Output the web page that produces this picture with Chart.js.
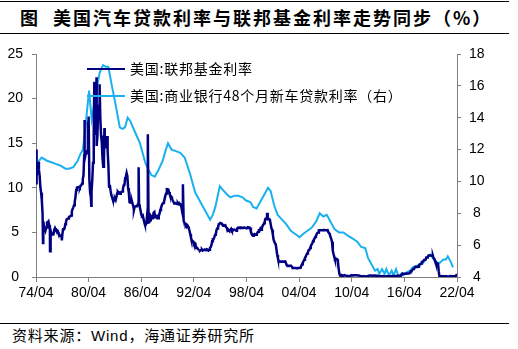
<!DOCTYPE html>
<html>
<head>
<meta charset="utf-8">
<script src="https://cdn.jsdelivr.net/npm/chart.js@4.4.1/dist/chart.umd.min.js"></script>
<style>
  body { margin: 0; width: 518px; height: 349px; background: #fff; position: relative; overflow: hidden; font-family: "Noto Sans CJK SC", sans-serif; }
  .rule { position: absolute; left: 0; width: 509px; height: 1px; background: #000; }
  #title { position: absolute; left: 20px; top: 4px; font-size: 18px; font-weight: bold; letter-spacing: 2px; line-height: 26px; white-space: nowrap; }
  #title .lead { margin-right: 13px; }
  #wrap { position: absolute; left: 0; top: 34px; width: 518px; height: 288px; }
  #source { position: absolute; left: 12px; top: 325px; font-size: 15px; letter-spacing: 0.8px; line-height: 20px; white-space: nowrap; }
  #source .latin { font-family: Arial, "Liberation Sans", sans-serif; }
</style>
</head>
<body>
<div class="rule" style="top:1px"></div>
<div id="title"><span class="lead">图</span>美国汽车贷款利率与联邦基金利率走势同步（%）</div>
<div class="rule" style="top:33px"></div>
<div id="wrap"><canvas id="chart" width="518" height="288"></canvas></div>
<div class="rule" style="top:323px"></div>
<div id="source">资料来源：<span class="latin">Wind</span>，海通证券研究所</div>

<script>
// x 轴刻度（年份，小数）
const tickYears = [1974.25, 1980.25, 1986.25, 1992.25, 1998.25, 2004.25, 2010.25, 2016.25, 2022.25];
const tickLabels = ['74/04', '80/04', '86/04', '92/04', '98/04', '04/04', '10/04', '16/04', '22/04'];

// 联邦基金利率，月度，从 1974 年 4 月开始
const fedStart = 1974.25;
const fedRate = [
  10.51, 11.31, 11.93, 12.92, 12.01, 11.34, 10.06, 9.45, 8.53,
  7.13, 6.24, 5.54, 5.49, 5.22, 5.55, 6.10, 6.14, 6.24, 5.82, 5.22, 5.20,
  4.87, 4.77, 4.84, 4.82, 5.29, 5.48, 5.31, 5.29, 5.25, 5.02, 4.95, 4.65,
  4.61, 4.68, 4.69, 4.73, 5.35, 5.39, 5.42, 5.90, 6.14, 6.47, 6.51, 6.56,
  6.70, 6.78, 6.79, 6.89, 7.36, 7.60, 7.81, 8.04, 8.45, 8.96, 9.76, 10.03,
  10.07, 10.06, 10.09, 10.01, 10.24, 10.29, 10.47, 10.94, 11.43, 13.77, 13.18, 13.78,
  13.82, 14.13, 17.19, 17.61, 10.98, 9.47, 9.03, 9.61, 10.87, 12.81, 15.85, 18.90,
  19.08, 15.93, 14.70, 15.72, 18.52, 19.10, 19.04, 17.82, 15.87, 15.08, 13.31, 12.37,
  13.22, 14.78, 14.68, 14.94, 14.45, 14.15, 12.59, 10.12, 10.31, 9.71, 9.20, 8.95,
  8.68, 8.51, 8.77, 8.80, 8.63, 8.98, 9.37, 9.56, 9.45, 9.48, 9.34, 9.47,
  9.56, 9.59, 9.91, 10.29, 10.32, 11.06, 11.23, 11.64, 11.30, 9.99, 9.43, 8.38,
  8.35, 8.50, 8.58, 8.27, 7.97, 7.53, 7.88, 7.90, 7.92, 7.99, 8.05, 8.27,
  8.14, 7.86, 7.48, 6.99, 6.85, 6.92, 6.56, 6.17, 5.89, 5.85, 6.04, 6.91,
  6.43, 6.10, 6.13, 6.37, 6.85, 6.73, 6.58, 6.73, 7.22, 7.29, 6.69, 6.77,
  6.83, 6.58, 6.58, 6.87, 7.09, 7.51, 7.75, 8.01, 8.19, 8.30, 8.35, 8.76,
  9.12, 9.36, 9.85, 9.84, 9.81, 9.53, 9.24, 8.99, 9.02, 8.84, 8.55, 8.45,
  8.23, 8.24, 8.28, 8.26, 8.18, 8.29, 8.15, 8.13, 8.20, 8.11, 7.81, 7.31,
  6.91, 6.25, 6.12, 5.91, 5.78, 5.90, 5.82, 5.66, 5.45, 5.21, 4.81, 4.43,
  4.03, 4.06, 3.98, 3.73, 3.82, 3.76, 3.25, 3.30, 3.22, 3.10, 3.09, 2.92,
  3.02, 3.03, 3.07, 2.96, 3.00, 3.04, 3.06, 3.03, 3.09, 2.99, 3.02, 2.96,
  3.05, 3.25, 3.34, 3.56, 4.01, 4.25, 4.26, 4.47, 4.73, 4.76, 5.29, 5.45,
  5.53, 5.92, 5.98, 6.05, 6.01, 6.00, 5.85, 5.74, 5.80, 5.76, 5.80, 5.60,
  5.56, 5.22, 5.31, 5.22, 5.24, 5.27, 5.40, 5.22, 5.30, 5.24, 5.31, 5.29,
  5.25, 5.19, 5.39, 5.51, 5.50, 5.56, 5.52, 5.54, 5.54, 5.50, 5.52, 5.50,
  5.56, 5.51, 5.49, 5.45, 5.49, 5.56, 5.54, 5.55, 5.51, 5.07, 4.83, 4.68,
  4.63, 4.76, 4.81, 4.74, 4.74, 4.76, 4.99, 5.07, 5.22, 5.20, 5.42, 5.30,
  5.45, 5.73, 5.85, 6.02, 6.27, 6.53, 6.54, 6.50, 6.52, 6.51, 6.51, 6.40,
  5.98, 5.49, 5.31, 4.80, 4.21, 3.97, 3.77, 3.65, 3.07, 2.49, 2.09, 1.82,
  1.73, 1.74, 1.73, 1.75, 1.75, 1.75, 1.73, 1.74, 1.75, 1.75, 1.34, 1.24,
  1.24, 1.26, 1.25, 1.26, 1.26, 1.22, 1.01, 1.03, 1.01, 1.01, 1.00, 0.98,
  1.00, 1.01, 1.00, 1.00, 1.00, 1.03, 1.26, 1.43, 1.61, 1.76, 1.93, 2.16,
  2.28, 2.50, 2.63, 2.79, 3.00, 3.04, 3.26, 3.50, 3.62, 3.78, 4.00, 4.16,
  4.29, 4.49, 4.59, 4.79, 4.94, 4.99, 5.24, 5.25, 5.25, 5.25, 5.25, 5.24,
  5.25, 5.26, 5.26, 5.25, 5.25, 5.25, 5.26, 5.02, 4.94, 4.76, 4.49, 4.24,
  3.94, 2.98, 2.61, 2.28, 1.98, 2.00, 2.01, 2.00, 1.81, 0.97, 0.39, 0.16,
  0.15, 0.22, 0.18, 0.15, 0.18, 0.21, 0.16, 0.16, 0.15, 0.12, 0.12, 0.12,
  0.11, 0.13, 0.16, 0.20, 0.20, 0.18, 0.18, 0.19, 0.19, 0.19, 0.19, 0.18,
  0.17, 0.16, 0.14, 0.10, 0.09, 0.09, 0.07, 0.10, 0.08, 0.07, 0.08, 0.07,
  0.08, 0.10, 0.13, 0.14, 0.16, 0.16, 0.16, 0.13, 0.14, 0.16, 0.16, 0.16,
  0.14, 0.15, 0.14, 0.15, 0.11, 0.09, 0.09, 0.08, 0.08, 0.09, 0.08, 0.09,
  0.07, 0.07, 0.08, 0.09, 0.09, 0.10, 0.09, 0.09, 0.09, 0.09, 0.09, 0.12,
  0.11, 0.11, 0.11, 0.12, 0.12, 0.13, 0.13, 0.14, 0.14, 0.12, 0.12, 0.24,
  0.34, 0.38, 0.36, 0.37, 0.37, 0.38, 0.39, 0.40, 0.40, 0.40, 0.41, 0.54,
  0.65, 0.66, 0.79, 0.90, 0.91, 1.04, 1.15, 1.16, 1.15, 1.15, 1.16, 1.30,
  1.41, 1.42, 1.51, 1.69, 1.70, 1.82, 1.91, 1.91, 1.95, 2.19, 2.20, 2.27,
  2.40, 2.40, 2.41, 2.42, 2.39, 2.38, 2.40, 2.13, 2.04, 1.83, 1.55, 1.55,
  1.55, 1.58, 0.65, 0.05, 0.05, 0.08, 0.09, 0.10, 0.09, 0.09, 0.09, 0.09,
  0.09, 0.08, 0.07, 0.07, 0.06, 0.08, 0.10, 0.09, 0.08, 0.08, 0.08, 0.08,
  0.08, 0.08, 0.20, 0.33
];

// 日度数据中的尖峰
const fedSpikeDates  = [1974.30, 1975.05, 1975.85, 1977.20, 1979.75, 1980.25, 1980.55, 1980.90, 1981.15, 1981.50, 1982.05, 1982.35, 1985.95, 1987.00, 1991.00, 2000.60];
const fedSpikeValues = [14.3,    3.8,     2.9,     4.1,     17.6,    18.0,    8.0,     21.9,    22.4,    21.6,    16.7,    15.8,    12.3,    16.0,    10.4,    7.2];

// 商业银行 48 个月新车贷款利率（右轴）
const carDates = [
  1974.25, 1974.6, 1974.9, 1975.5, 1976.0, 1976.5, 1977.0, 1977.6, 1978.0, 1978.5,
  1979.0, 1979.3, 1979.6, 1979.9, 1980.3, 1980.6, 1980.9, 1981.2, 1981.5, 1981.8,
  1981.9, 1982.2, 1982.5, 1982.9, 1983.3, 1983.8, 1984.1, 1984.4, 1984.7, 1985.0,
  1985.3, 1985.7, 1986.1, 1986.4, 1986.7, 1987.0, 1987.4, 1987.8, 1988.2, 1988.7,
  1989.0, 1989.3, 1989.7, 1990.2, 1990.7, 1991.2, 1991.8, 1992.4, 1992.9, 1993.3,
  1993.7, 1994.1, 1994.4, 1994.7, 1995.2, 1995.5, 1996.0, 1996.4, 1996.9, 1997.3,
  1997.8, 1998.2, 1998.7, 1999.0, 1999.4, 1999.9, 2000.3, 2000.7, 2001.0, 2001.4,
  2001.8, 2002.3, 2002.8, 2003.3, 2003.8, 2004.3, 2004.7, 2005.2, 2005.7, 2006.2,
  2006.6, 2007.0, 2007.4, 2007.8, 2008.3, 2008.8, 2009.3, 2009.8, 2010.4, 2010.9,
  2011.3, 2011.8, 2012.1, 2012.5, 2012.9, 2013.2, 2013.4, 2013.7, 2014.0, 2014.2,
  2014.5, 2014.8, 2015.0, 2015.3, 2015.6, 2015.9, 2016.1, 2016.5, 2016.9, 2017.2,
  2017.7, 2018.0, 2018.4, 2018.8, 2019.2, 2019.5, 2019.8, 2020.3, 2020.7, 2021.0,
  2021.2, 2021.5, 2021.8
];
const carRate = [
  10.8, 11.3, 11.5, 11.3, 11.2, 11.1, 11.0, 10.8, 10.8, 10.9,
  11.3, 11.7, 12.0, 13.5, 15.7, 13.9, 14.9, 15.9, 16.8, 17.2,
  17.3, 17.2, 17.2, 16.0, 14.9, 13.4, 13.3, 13.4, 14.0, 13.8,
  13.4, 12.9, 12.4, 11.8, 11.2, 10.8, 10.4, 10.3, 10.7, 11.3,
  11.9, 12.4, 12.0, 11.9, 11.8, 11.5, 10.5, 9.3, 8.8, 8.4,
  8.0, 7.6, 7.9, 8.4, 9.7, 9.5, 9.2, 9.0, 9.1, 9.1,
  9.0, 8.8, 8.7, 8.4, 8.3, 8.8, 9.2, 9.6, 9.4, 8.5,
  7.9, 7.6, 7.3, 6.9, 6.7, 6.5, 6.7, 6.9, 7.1, 7.5,
  8.0, 7.8, 7.9, 7.5, 7.0, 6.8, 6.8, 6.6, 6.4, 6.2,
  5.9, 5.8, 5.2, 4.8, 4.4, 4.5, 4.2, 4.5, 4.2, 4.5,
  4.1, 4.4, 4.1, 4.5, 4.0, 4.2, 4.1, 4.3, 4.4, 4.6,
  4.7, 4.8, 4.9, 5.2, 5.4, 5.2, 4.9, 4.9, 5.1, 5.1,
  5.3, 5.0, 4.6
];

const fedColor = '#000080';
const carColor = '#1BB0EE';
const axisColor = '#808080';
const tickFont = { family: 'Arial, "Liberation Sans", sans-serif', size: 14 };

function buildFedPoints() {
    const pts = fedRate.map((v, i) => ({ x: fedStart + i / 12, y: v }));
    fedSpikeDates.forEach((d, i) => pts.push({ x: d, y: fedSpikeValues[i] }));
    pts.sort((a, b) => a.x - b.x);
    return pts;
}

// 图例画在绘图区内部
const legendPlugin = {
    id: 'innerLegend',
    afterDatasetsDraw(chart) {
        const c = chart.ctx;
        const items = [
            { color: fedColor, text: '美国:联邦基金利率', y: 35 },
            { color: carColor, text: '美国:商业银行48个月新车贷款利率（右）', y: 62 }
        ];
        c.save();
        c.font = '14px "Noto Sans CJK SC", sans-serif';
        c.letterSpacing = '0.75px';
        c.textBaseline = 'middle';
        c.fillStyle = '#000';
        items.forEach(it => {
            c.strokeStyle = it.color;
            c.lineWidth = 2;
            c.beginPath();
            c.moveTo(87, it.y);
            c.lineTo(125, it.y);
            c.stroke();
            c.fillText(it.text, 130, it.y);
        });
        c.restore();
    }
};

const ctx = document.getElementById('chart').getContext('2d');
new Chart(ctx, {
    type: 'line',
    data: {
        datasets: [{
            label: '美国:联邦基金利率',
            data: buildFedPoints(),
            borderColor: fedColor,
            borderWidth: 2.5,
            pointRadius: 0,
            tension: 0,
            yAxisID: 'y'
        }, {
            label: '美国:商业银行48个月新车贷款利率（右）',
            data: carDates.map((d, i) => ({ x: d, y: carRate[i] })),
            borderColor: carColor,
            borderWidth: 2,
            pointRadius: 0,
            tension: 0,
            yAxisID: 'y1'
        }]
    },
    options: {
        responsive: false,
        animation: false,
        layout: { padding: { top: 20, left: 0, right: 0, bottom: 0 } },
        plugins: {
            legend: { display: false },
            tooltip: { enabled: false }
        },
        scales: {
            x: {
                type: 'linear',
                min: tickYears[0],
                max: tickYears[tickYears.length - 1],
                afterBuildTicks: s => { s.ticks = tickYears.map(v => ({ value: v })); },
                afterFit: s => { s.height = 45; },
                grid: { drawOnChartArea: false, drawTicks: true, tickLength: 5, color: axisColor },
                border: { display: true, color: axisColor, width: 1 },
                ticks: {
                    autoSkip: false, maxRotation: 0, padding: 3,
                    color: '#000', font: tickFont,
                    callback: (v, i) => tickLabels[i]
                }
            },
            y: {
                position: 'left',
                min: 0, max: 25,
                afterFit: s => { s.width = 36; },
                grid: { drawOnChartArea: false, drawTicks: true, tickLength: 4, color: axisColor },
                border: { display: true, color: axisColor, width: 1 },
                ticks: { stepSize: 5, padding: 9, crossAlign: 'center', color: '#000', font: tickFont }
            },
            y1: {
                position: 'right',
                min: 4, max: 18,
                afterFit: s => { s.width = 61; },
                grid: { drawOnChartArea: false, drawTicks: true, tickLength: 4, color: axisColor },
                border: { display: true, color: axisColor, width: 1 },
                ticks: { stepSize: 2, padding: 8, crossAlign: 'center', color: '#000', font: tickFont }
            }
        }
    },
    plugins: [legendPlugin]
});
</script>
</body>
</html>
